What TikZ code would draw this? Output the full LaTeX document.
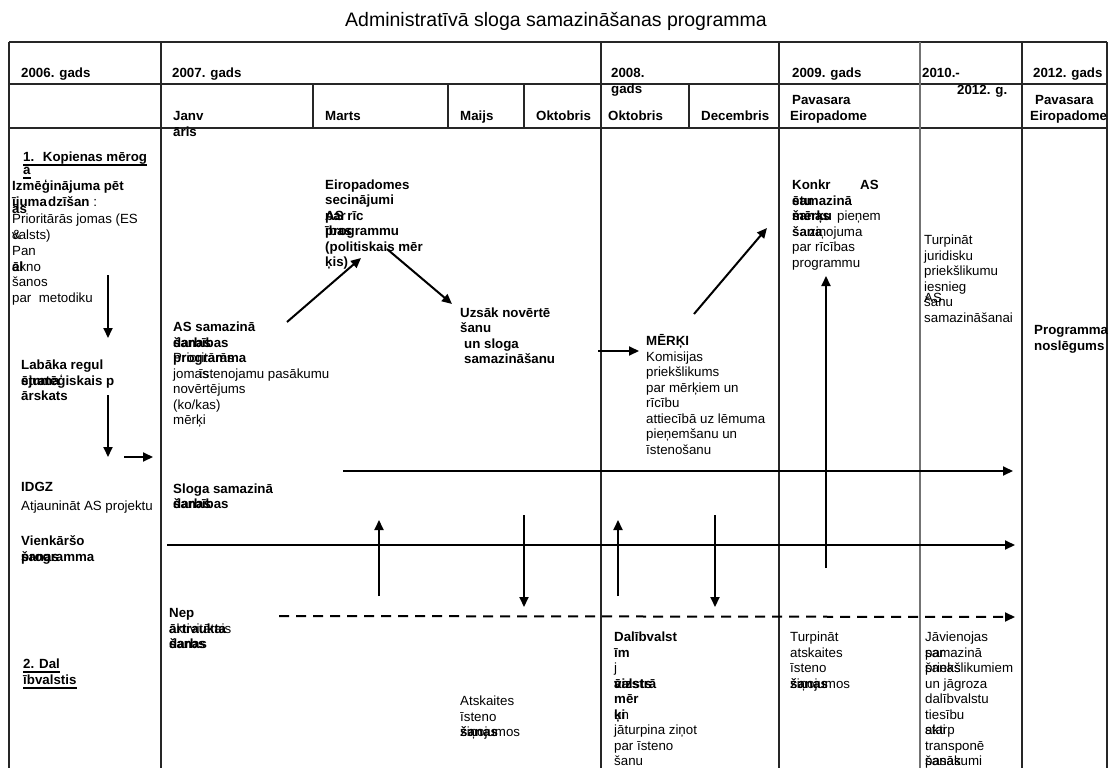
\documentclass[tikz,border=0pt]{standalone}
\usepackage{fontspec}
\setmainfont{Liberation Sans}
\usetikzlibrary{arrows.meta}
\newcommand{\tp}{\rule{0pt}{12.2pt}}
\newcommand{\ud}{\rule[-3pt]{0pt}{0pt}}
\tikzset{
  txt/.style={anchor=north west, inner sep=0pt, align=left, font=\fontsize{13.3}{15.5}\selectfont},
  btxt/.style={txt, font=\fontsize{13.3}{15.5}\selectfont\bfseries},
  gridline/.style={line width=1.2pt, black!85},
  arr/.style={line width=2pt, -{Triangle[length=10pt,width=9pt]}},
  uline/.style={line width=1.6pt},
}
\begin{document}
\begin{tikzpicture}[x=1pt,y=1pt,yscale=-1,xscale=1]
\useasboundingbox (0,0) rectangle (1109,768);
%Table
\draw[gridline] (9,42) -- (1107,42) ;
\draw[gridline] (9,84) -- (1107,84) ;
\draw[gridline] (9,128) -- (1107,128) ;
\draw[gridline] (9,42) -- (9,768) ;
\draw[gridline] (161,42) -- (161,768) ;
\draw[gridline] (601,42) -- (601,768) ;
\draw[gridline] (779,42) -- (779,768) ;
\draw[gridline, black!55] (920,42) -- (920,768) ;
\draw[gridline] (1022,42) -- (1022,768) ;
\draw[gridline] (1107,42) -- (1107,768) ;
\draw[gridline] (313,84) -- (313,128) ;
\draw[gridline] (448,84) -- (448,128) ;
\draw[gridline] (524,84) -- (524,128) ;
\draw[gridline] (689,84) -- (689,128) ;

% Title
\draw (556,21) node (title) [font=\fontsize{19.5}{23}\selectfont] {Administratīvā sloga samazināšanas programma};

% Text Node: years
\draw (21,65.3) node (h06) [btxt] {\tp 2006. gads};
\draw (172,65.3) node (h07) [btxt] {\tp 2007. gads};
\draw (611,65.3) node (h08) [btxt] {\tp 2008.\\gads};
\draw (792,65.3) node (h09) [btxt] {\tp 2009. gads};
\draw (922,65.3) node (h10) [btxt] {\tp 2010.-};
\draw (957,82.3) node (h10b) [btxt] {\tp 2012. g.};
\draw (1033,65.3) node (h12) [btxt] {\tp 2012. gads};
% Text Node: months
\draw (173,108.3) node (mjan) [btxt] {\tp Janv\\āris};
\draw (325,108.3) node (mmar) [btxt] {\tp Marts};
\draw (460,108.3) node (mmai) [btxt] {\tp Maijs};
\draw (536,108.3) node (mokt) [btxt] {\tp Oktobris};
\draw (608,108.3) node (mokt2) [btxt] {\tp Oktobris};
\draw (701,108.3) node (mdec) [btxt] {\tp Decembris};
\draw (790,92.3) node (mpav) [btxt] {\tp \hspace{2pt}Pavasara\\Eiropadome};
\draw (1030,92.3) node (mpav2) [btxt] {\tp \hspace{5pt}Pavasara\\Eiropadome};

% Text Node: 2006
\draw (23,149.3) node (kop1) [btxt] {\tp\ud 1.~ Kopienas mērog};
\draw (23,162.3) node (kop2) [btxt] {\tp\ud ā};
\draw[uline] (kop1.south west) -- (kop1.south east) ;
\draw[uline] (kop2.south west) -- (kop2.south east) ;
\draw (12,178.3) node (izm) [btxt] {\tp Izmēģinājuma pēt\\ījuma};
\draw (48,193.8) node (izm2) [btxt] {\tp dzīšan {\mdseries :}};
\draw (12,201.3) node (izm3) [btxt] {\tp ās};
\draw (12,211.3) node (pri) [txt] {\tp Prioritārās jomas (ES\\valsts)};
\draw (12,226.8) node (amp) [txt] {\tp \&};
\draw (12,243.3) node (pan) [txt] {\tp Pan\\ekno\\šanos\\par~ metodiku};
\draw (12,258.8) node (pan2) [btxt] {\tp āl};
\draw (21,357.3) node (lab) [btxt] {\tp Labāka regul\\stratēģiskais p\\ārskats};
\draw (21,372.8) node (lab2) [btxt] {\tp ējuma};
\draw (21,479.3) node (idgz) [btxt] {\tp IDGZ};
\draw (21,498.3) node (atj) [txt] {\tp Atjaunināt AS projektu};
\draw (21,533.3) node (vien) [btxt] {\tp Vienkāršo\\programma};
\draw (21,548.8) node (vien2) [btxt] {\tp šanas};
\draw (23,656.3) node (dal1) [btxt] {\tp\ud 2. Dal};
\draw (23,672.3) node (dal2) [btxt] {\tp\ud ībvalstis};
\draw[uline] (dal1.south west) -- (dal1.south east) ;
\draw[uline] (dal2.south west) -- (dal2.south east) ;

% Text Node: 2007
\draw (173,319.3) node (asp) [btxt] {\tp AS samazinā\\darbības\\programma};
\draw (173,334.8) node (asp2) [btxt] {\tp šanas};
\draw (173,350.3) node (asp3) [txt] {\tp Prioritārās};
\draw (173,365.8) node (jom) [txt] {\tp jomas\\novērtējums\\(ko/kas)\\mērķi};
\draw (199,365.8) node (jom2) [txt] {\tp īstenojamu pasākumu};
\draw (325,176.8) node (eir) [btxt] {\tp Eiropadomes\\secinājumi\\AS rīc\\programmu\\(politiskais mēr\\ķis)};
\draw (325,207.8) node (eir2) [btxt] {\tp par};
\draw (325,223.3) node (eir3) [btxt] {\tp ības};
\draw (460,304.8) node (uzs) [btxt] {\tp Uzsāk novērtē\\šanu\\\hspace{4pt}un sloga\\\hspace{4pt}samazināšanu};
\draw (173,480.8) node (slo) [btxt] {\tp Sloga samazinā\\šanas};
\draw (173,496.3) node (slo2) [btxt] {\tp darbības};
\draw (169,605.3) node (nep) [btxt] {\tp Nep\\ārtraukta\\darbs};
\draw (169,620.8) node (nep2) [txt] {\tp aktivitātais};
\draw (169,636.3) node (nep3) [btxt] {\tp šanas};
\draw (460,693.3) node (ats) [txt] {\tp Atskaites\\īsteno\\ziņojumos};
\draw (460,724.3) node (ats2) [btxt] {\tp šanas};

% Text Node: 2008
\draw (646,333.3) node (mer) [btxt] {\tp MĒRĶI};
\draw (646,348.8) node (kom) [txt] {\tp Komisijas\\priekšlikums\\par mērķiem un\\rīcību\\attiecībā uz lēmuma\\pieņemšanu un\\īstenošanu};
\draw (614,629.3) node (dlb) [btxt] {\tp Dalībvalst\\īm};
\draw (614,660.3) node (dlb2) [txt] {\tp j};
\draw (614,675.8) node (dlb3) [btxt] {\tp valsts};
\draw (614,675.8) node (dlb4) [btxt] {\tp āizstrā};
\draw (614,691.3) node (dlb5) [btxt] {\tp mēr\\ķi};
\draw (614,706.8) node (dlb6) [txt] {\tp un};
\draw (614,722.3) node (dlb7) [txt] {\tp jāturpina ziņot\\par īsteno\\šanu};

% Text Node: 2009
\draw (792,177.3) node (kon) [btxt] {\tp Konkr};
\draw (860,177.3) node (kon2) [btxt] {\tp AS};
\draw (792,192.8) node (kon3) [btxt] {\tp samazinā\\šanas\\šana};
\draw (792,192.8) node (kon4) [btxt] {\tp ētu};
\draw (792,208.3) node (kon5) [btxt] {\tp mērķu};
\draw (837,208.3) node (kon6) [txt] {\tp pieņem};
\draw (809,223.8) node (kon7) [txt] {\tp ziņojuma};
\draw (792,239.3) node (kon8) [txt] {\tp par rīcības\\programmu};
\draw (790,629.3) node (tur) [txt] {\tp Turpināt\\atskaites\\īsteno\\ziņojumos};
\draw (790,675.8) node (tur2) [btxt] {\tp šanas};

% Text Node: 2010 - 2012
\draw (924,232.3) node (jur) [txt] {\tp Turpināt\\juridisku\\priekšlikumu\\iesnieg\\šanu\\samazināšanai};
\draw (924,290.3) node (jur2) [txt] {\tp AS};
\draw (925,629.3) node (jav) [txt] {\tp Jāvienojas\\samazinā\\priekšlikumiem\\un jāgroza\\dalībvalstu\\tiesību\\starp\\transponē\\pasākumi};
\draw (925,644.8) node (jav2) [txt] {\tp par};
\draw (925,660.3) node (jav3) [txt] {\tp šanas};
\draw (925,722.3) node (jav4) [txt] {\tp akti};
\draw (925,753.3) node (jav5) [txt] {\tp šanas};
\draw (1034,322.3) node (prg) [btxt] {\tp Programma\\noslēgums};

% Arrow ends
\coordinate (p1) at (108,275); \coordinate (p2) at (108,338);
\coordinate (p3) at (108,395); \coordinate (p4) at (108,457);
\coordinate (p5) at (124,457); \coordinate (p6) at (153,457);
\coordinate (q1) at (287,322); \coordinate (q2) at (361,258);
\coordinate (q3) at (387,249); \coordinate (q4) at (452,304);
\coordinate (q5) at (598,351); \coordinate (q6) at (639,351);
\coordinate (q7) at (694,314); \coordinate (q8) at (767,228);
\coordinate (r1) at (343,471); \coordinate (r2) at (1013,471);
\coordinate (r3) at (167,545); \coordinate (r4) at (1015,545);
\coordinate (r5) at (279,616); \coordinate (r6) at (1015,617);
\coordinate (v1) at (379,596); \coordinate (v2) at (379,520);
\coordinate (v3) at (524,515); \coordinate (v4) at (524,607);
\coordinate (v5) at (618,596); \coordinate (v6) at (618,520);
\coordinate (v7) at (715,515); \coordinate (v8) at (715,607);
\coordinate (v9) at (826,568); \coordinate (v10) at (826,276);

%Straight Lines
\draw[arr] (p1) -- (p2) ;
\draw[arr] (p3) -- (p4) ;
\draw[arr] (p5) -- (p6) ;
\draw[arr] (q1) -- (q2) ;
\draw[arr] (q3) -- (q4) ;
\draw[arr] (q5) -- (q6) ;
\draw[arr] (q7) -- (q8) ;
\draw[arr] (r1) -- (r2) ;
\draw[arr] (r3) -- (r4) ;
\draw[arr, dash pattern=on 10pt off 7pt] (r5) -- (r6) ;
\draw[arr] (v1) -- (v2) ;
\draw[arr] (v3) -- (v4) ;
\draw[arr] (v5) -- (v6) ;
\draw[arr] (v7) -- (v8) ;
\draw[arr] (v9) -- (v10) ;
\end{tikzpicture}
\end{document}
